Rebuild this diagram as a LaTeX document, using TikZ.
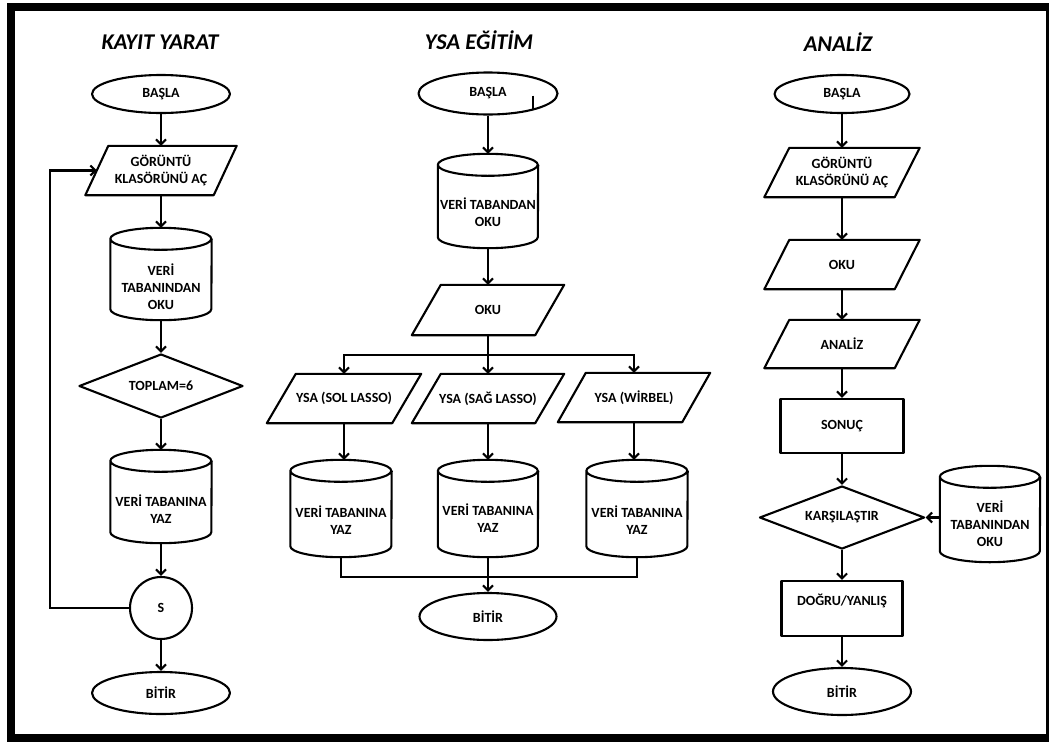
\documentclass[tikz,border=0pt]{standalone}
\usepackage{fontspec}
\setmainfont{Carlito}
\usetikzlibrary{shapes.geometric,arrows.meta}

% parallelogram outline on a plain rectangle node: name, slant
\newcommand{\parafig}[2]{%
  \draw[shp] (#1.south west) -- ([xshift=#2]#1.north west) -- (#1.north east)
    -- ([xshift=-#2]#1.south east) -- cycle;}
% database cylinder outline on a plain rectangle node: name, x radius, y radius
\newcommand{\dbfig}[3]{%
  \draw[shp] ([yshift=-#3]#1.north west)
    arc[start angle=180, end angle=-180, x radius=#2, y radius=#3]
    -- ([yshift=#3]#1.south west)
    arc[start angle=180, end angle=360, x radius=#2, y radius=#3]
    -- ([yshift=-#3]#1.north east);}
% straight vertical arrow between two stacked nodes
\newcommand{\down}[2]{\draw[arr] (#1.south) -- (#1.south |- #2.north);}

\begin{document}
\begin{tikzpicture}[x=1pt, y=-1pt,
  shp/.style={draw=black, line width=2.1pt, line join=round},
  txt/.style={font=\bfseries\fontsize{14pt}{17pt}\selectfont, align=center, inner sep=0pt},
  term/.style={shp, txt, fill=white, ellipse, minimum width=138pt, minimum height=40pt},
  io/.style={txt, rectangle, minimum height=49pt},
  dbbox/.style={rectangle, inner sep=0pt, minimum width=101pt, minimum height=94pt},
  dec/.style={shp, txt, diamond, aspect=2.6, minimum width=164pt, minimum height=64pt},
  proc/.style={shp, txt, rectangle, minimum width=122pt, minimum height=54pt},
  conn/.style={shp, txt, circle, minimum size=62pt},
  ttl/.style={font=\bfseries\itshape\fontsize{22.5pt}{26pt}\selectfont, inner sep=0pt},
  arr/.style={line width=2.1pt, -{Straight Barb[length=5pt,width=10pt]}},
  ln/.style={line width=2.1pt},
]
\useasboundingbox (0,0) rectangle (1049,742);
\fill[white] (0,0) rectangle (1049,742);
\draw[line width=8pt] (11,6.5) rectangle (1050,737.5);

% ---------------- KAYIT YARAT ----------------
\node[ttl] (t1) at (160,42) {KAYIT YARAT};
\node[term, minimum height=38pt] (s1) at (161,94) {BAŞLA};
\node[io, minimum width=151pt] (p1) at (161,170.5) {GÖRÜNTÜ\\KLASÖRÜNÜ AÇ};
\parafig{p1}{23pt}
\node[dbbox, minimum height=92pt] (c1) at (161,274) {};
\dbfig{c1}{50.5pt}{11pt}
\node[txt] (c1t) at ([yshift=-13pt]c1.center) {VERİ\\TABANINDAN\\OKU};
\node[dec] (d1) at (161,386) {TOPLAM=6};
\node[dbbox, minimum height=93pt] (c2) at (161,496.5) {};
\dbfig{c2}{50.5pt}{11pt}
\node[txt] (c2t) at ([yshift=-13pt]c2.center) {VERİ TABANINA\\YAZ};
\node[conn] (o1) at (161,608) {S};
\node[term, minimum height=42pt] (e1) at (161,693) {BİTİR};
\coordinate (lp) at (50,608);

\down{s1}{p1}
\down{p1}{c1}
\down{c1}{d1}
\down{d1}{c2}
\down{c2}{o1}
\down{o1}{e1}
\draw[arr] (o1.west) -- (lp) |- ([xshift=11.5pt]p1.west);

% ---------------- YSA EĞİTİM ----------------
\node[ttl] (t2) at (479,40) {YSA EĞİTİM};
\node[term, minimum width=139pt, minimum height=42pt] (s2) at (488,93.5) {BAŞLA};
\draw[line width=1.2pt] ([shift={(45pt,-2pt)}]s2.center) -- ([shift={(45pt,-16pt)}]s2.center);
\node[dbbox, minimum width=100pt] (c3) at (488,201) {};
\dbfig{c3}{50pt}{11pt}
\node[txt] (c3t) at ([yshift=-11pt]c3.center) {VERİ TABANDAN\\OKU};
\node[io, minimum width=152pt, minimum height=50pt] (p2) at (488,310) {OKU};
\parafig{p2}{29pt}
\coordinate (j) at (488,355);

\node[io, minimum width=154pt] (p3) at (344,398.5) {YSA (SOL LASSO)};
\parafig{p3}{29pt}
\node[io, minimum width=152pt] (p4) at (488,398.5) {YSA (SAĞ LASSO)};
\parafig{p4}{29pt}
\node[io, minimum width=152pt] (p5) at (634,397.5) {YSA (WİRBEL)};
\parafig{p5}{28pt}

\node[dbbox, minimum height=97pt] (c4) at (341,508.5) {};
\dbfig{c4}{50.5pt}{11pt}
\node[txt] (c4t) at ([yshift=-12pt]c4.center) {VERİ TABANINA\\YAZ};
\node[dbbox, minimum width=100pt, minimum height=97pt] (c5) at (488,508.5) {};
\dbfig{c5}{50pt}{11pt}
\node[txt] (c5t) at ([yshift=-10pt]c5.center) {VERİ TABANINA\\YAZ};
\node[dbbox, minimum height=97pt] (c6) at (637,508.5) {};
\dbfig{c6}{50.5pt}{11pt}
\node[txt] (c6t) at ([yshift=-12pt]c6.center) {VERİ TABANINA\\YAZ};
\coordinate (m) at (488,577);
\node[term, minimum width=137pt, minimum height=47pt] (e2) at (488,616.5) {BİTİR};

\down{s2}{c3}
\down{c3}{p2}
\draw[ln] (p2.south) -- (j);
\draw[arr] (j) -| (p3.north);
\draw[arr] (j) -| (p5.north);
\draw[arr] (j) -- (p4.north);
\draw[arr] (p3.south) -- (p3.south |- c4.north);
\down{p4}{c5}
\draw[arr] (p5.south) -- (p5.south |- c6.north);
\draw[ln] (c4.south) |- (m) -| (c6.south);
\down{c5}{e2}

% ---------------- ANALİZ ----------------
\node[ttl] (t3) at (838,42) {ANALİZ};
\node[term, minimum width=135pt, minimum height=38pt] (s3) at (842,94) {BAŞLA};
\node[io, minimum width=155pt] (p6) at (842,172.5) {GÖRÜNTÜ\\KLASÖRÜNÜ AÇ};
\parafig{p6}{25pt}
\node[io, minimum width=155pt] (p7) at (842,264.5) {OKU};
\parafig{p7}{25pt}
\node[io, minimum width=155pt, minimum height=48pt] (p8) at (842,344) {ANALİZ};
\parafig{p8}{25pt}
\node[proc, minimum width=123pt] (r1) at (842,426) {SONUÇ};
\node[dec, minimum width=165pt, minimum height=63pt] (d2) at (842,517.5) {KARŞILAŞTIR};
\node[dbbox, minimum width=100pt, minimum height=96pt] (c7) at (990,514) {};
\dbfig{c7}{50pt}{11pt}
\node[txt] (c7t) at ([yshift=-10pt]c7.center) {VERİ\\TABANINDAN\\OKU};
\node[proc, minimum width=121pt, minimum height=55pt] (r2) at (842,608.5) {DOĞRU/YANLIŞ\\\mbox{}};
\node[term, minimum height=47pt] (e3) at (842,691.5) {BİTİR};

\down{s3}{p6}
\down{p6}{p7}
\down{p7}{p8}
\down{p8}{r1}
\down{r1}{d2}
\down{d2}{r2}
\down{r2}{e3}
\draw[arr] (c7.west |- d2.east) -- (d2.east);
\end{tikzpicture}
\end{document}
